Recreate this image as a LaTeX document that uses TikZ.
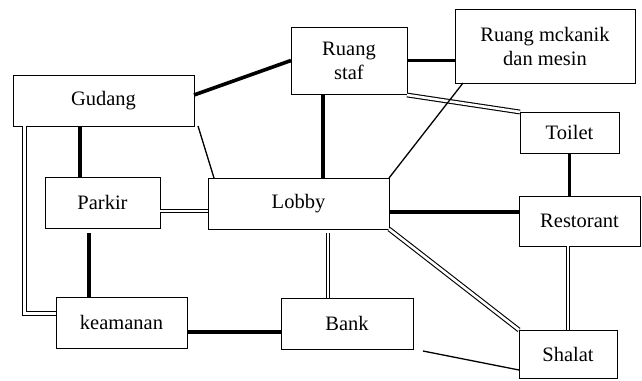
\documentclass[tikz,border=0pt]{standalone}
\usepackage{fontspec}
\setmainfont{Liberation Serif}
\begin{document}
\begin{tikzpicture}[x=1pt,y=-1pt,
  box/.style={draw=black, line width=1pt, fill=white, inner sep=0pt, outer sep=0pt, align=center,
    font=\fontsize{20.5}{24}\selectfont},
  thk/.style={line width=3.6pt, black},
  thn/.style={line width=1.3pt, black},
  dbl/.style={line width=1.1pt, double=white, double distance=2.6pt, black}]
\useasboundingbox (0,0) rectangle (642,380);
% nodes
\node[box, minimum width=181pt, minimum height=51pt] (gud)  at (103.5,100.5) {Gudang};
\node[box, minimum width=116pt, minimum height=67pt] (staf) at (349,60.5) {Ruang\\staf};
\node[box, minimum width=180pt, minimum height=74pt] (mek)  at (545,46) {Ruang mckanik\\dan mesin};
\node[box, minimum width=99pt,  minimum height=41pt] (toil) at (569.5,132.5) {Toilet};
\node[box, minimum width=121pt, minimum height=50pt] (rest) at (579.5,221) {Restorant};
\node[box, minimum width=98pt,  minimum height=48pt] (shal) at (568,354) {Shalat};
\node[box, minimum width=115pt, minimum height=51pt] (park) at (102.5,202.5) {Parkir};
\node[box, minimum width=131pt, minimum height=51pt] (kea)  at (121.5,322.5) {keamanan};
\node[box, minimum width=181pt, minimum height=51pt] (lob)  at (298.5,203.5) {Lobby};
\node[box, minimum width=132pt, minimum height=51pt] (bank) at (347,323.5) {Bank};
% helper coordinates
\coordinate (g1) at ([xshift=67pt]gud.south west);
\coordinate (g2) at ([xshift=11.5pt]gud.south west);
\coordinate (p1) at ([xshift=44pt,yshift=-5pt]park.south west);
\coordinate (p2) at ([yshift=-8.5pt]park.east);
\coordinate (s1) at ([xshift=-26pt]staf.south);
\coordinate (l1) at ([yshift=-8.5pt]lob.east);
\coordinate (l2) at ([xshift=29.5pt,yshift=-4pt]lob.south);
\coordinate (k1) at ([yshift=-9.5pt]kea.east);
% connectors
\draw[thk] ([yshift=5.5pt]gud.east) -- (staf.west);
\draw[thn] ([xshift=4pt]gud.south east) -- ([xshift=6pt]lob.north west);
\draw[thk] (g1) -- (g1 |- park.north);
\draw[dbl] (g2) |- ([yshift=9pt]kea.west);
\draw[thk] (p1) -- (p1 |- kea.north);
\draw[dbl] (p2) -- (p2 -| lob.west);
\draw[thk] (s1) -- (s1 |- lob.north);
\draw[thk] (staf.east) -- (staf.east -| mek.west);
\draw[dbl] ([yshift=-1pt]staf.south east) -- (toil.north west);
\draw[thn] ([xshift=8pt]mek.south west) -- (lob.north east);
\draw[thk] (toil.south) -- (toil.south |- rest.north);
\draw[thk] (l1) -- (l1 -| rest.west);
\draw[dbl] (lob.south east) -- (shal.north west);
\draw[dbl] (shal.north |- rest.south) -- (shal.north);
\draw[dbl] (l2) -- (l2 |- bank.north);
\draw[thk] (k1) -- (k1 -| bank.west);
\draw[thn] ([xshift=10pt,yshift=-2pt]bank.south east) -- ([yshift=-16pt]shal.west);
\end{tikzpicture}
\end{document}
